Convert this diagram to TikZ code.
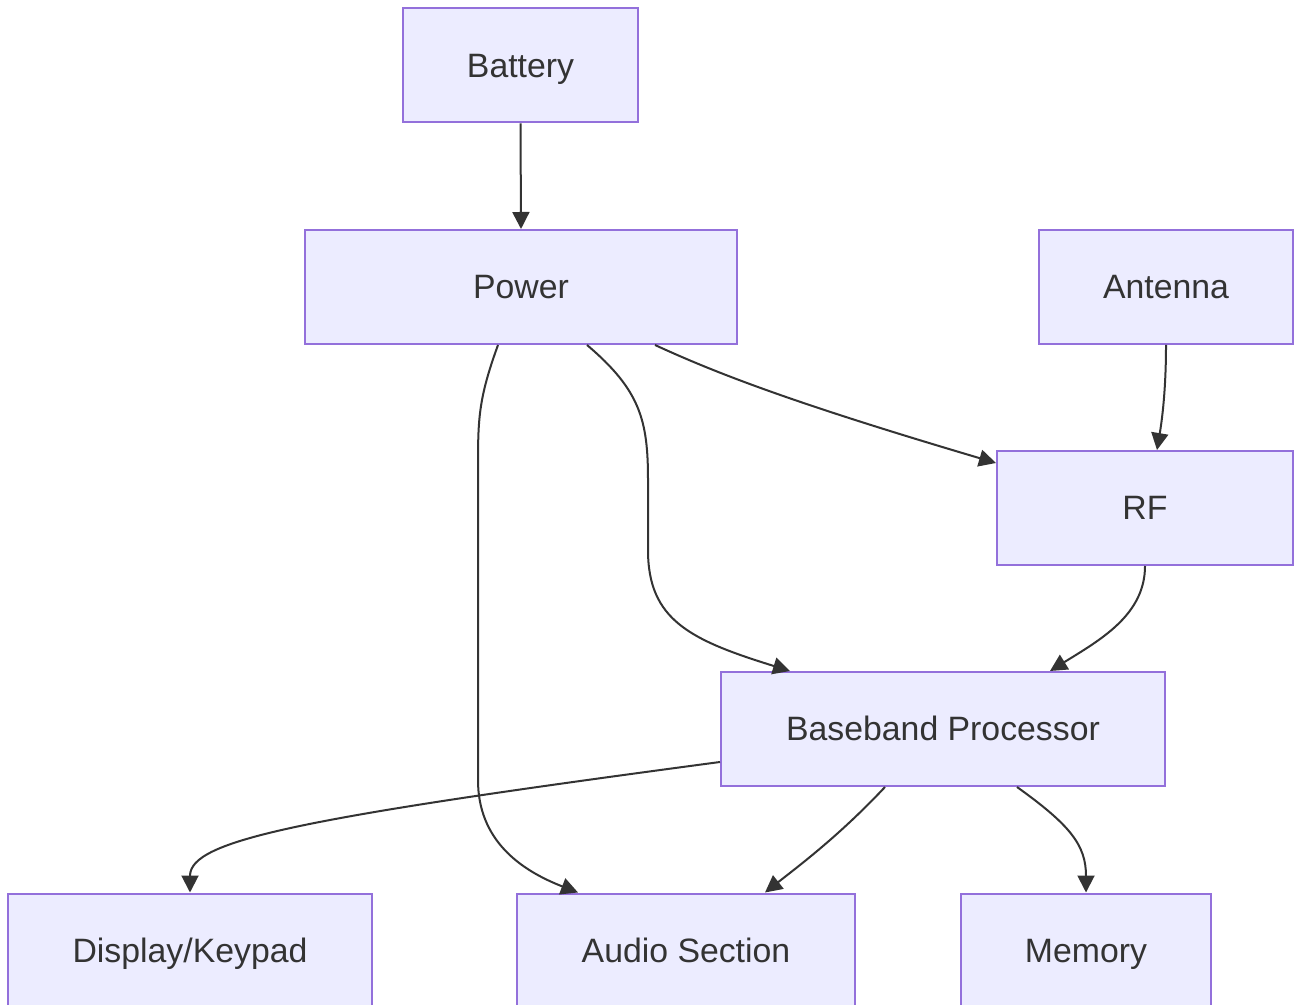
\documentclass[tikz,border=0pt]{standalone}
\usepackage{fontspec}
\setmainfont{Liberation Sans}
\usetikzlibrary{arrows.meta}
\definecolor{boxfill}{HTML}{ECECFF}
\definecolor{boxline}{HTML}{9370DB}
\definecolor{ink}{HTML}{333333}
\tikzset{
  blk/.style={draw=boxline, fill=boxfill, line width=2pt, minimum height=114pt,
    inner sep=0pt, text=ink, text height=28pt, text depth=4pt,
    font=\fontsize{33.8}{40}\selectfont},
  conn/.style={draw=ink, line width=2pt, -{Triangle[length=17pt,width=17pt]}}
}
\begin{document}
\begin{tikzpicture}[x=1pt,y=1pt]
\useasboundingbox (0,0) rectangle (1295,1004);
\clip (0,0) rectangle (1295,1004);
\fill[white] (0,0) rectangle (1295,1004);
\node[blk, minimum width=235pt] (bat) at (520.5,938.5) {Battery};
\node[blk, minimum width=432pt] (pow) at (521,717) {Power};
\node[blk, minimum width=254pt] (ant) at (1166,717) {Antenna};
\node[blk, minimum width=296pt] (rf) at (1145,496) {RF};
\node[blk, minimum width=444pt] (bb) at (943,275) {Baseband Processor};
\node[blk, minimum width=364pt] (disp) at (190,53.5) {Display/Keypad};
\node[blk, minimum width=338pt] (aud) at (686,53.5) {Audio Section};
\node[blk, minimum width=250pt] (mem) at (1086,53.5) {Memory};

\draw[conn] (bat.south) -- (pow.north);
\draw[conn] ([xshift=-23pt]pow.south) .. controls (478,604) and (478,584) .. (478,534)
  -- (478,224) .. controls (478,164) and (520,134) .. ([xshift=-108pt]aud.north);
\draw[conn] ([xshift=66pt]pow.south) .. controls (640,614) and (648,584) .. (648,524)
  -- (648,454) .. controls (648,384) and (690,364) .. ([xshift=-153pt]bb.north);
\draw[conn] ([xshift=134pt]pow.south) .. controls (720,629) and (800,599) .. ([yshift=45pt]rf.west);
\draw[conn] (ant.south) .. controls (1166,614) and (1162,584) .. ([xshift=12pt]rf.north);
\draw[conn] (rf.south) .. controls (1145,389) and (1100,364) .. ([xshift=107pt]bb.north);
\draw[conn] ([yshift=-33pt]bb.west) .. controls (300,186) and (190,164) .. (disp.north);
\draw[conn] ([xshift=-58pt]bb.south) .. controls (840,169) and (800,139) .. ([xshift=79pt]aud.north);
\draw[conn] ([xshift=74pt]bb.south) .. controls (1070,179) and (1086,159) .. (mem.north);
\end{tikzpicture}
\end{document}
